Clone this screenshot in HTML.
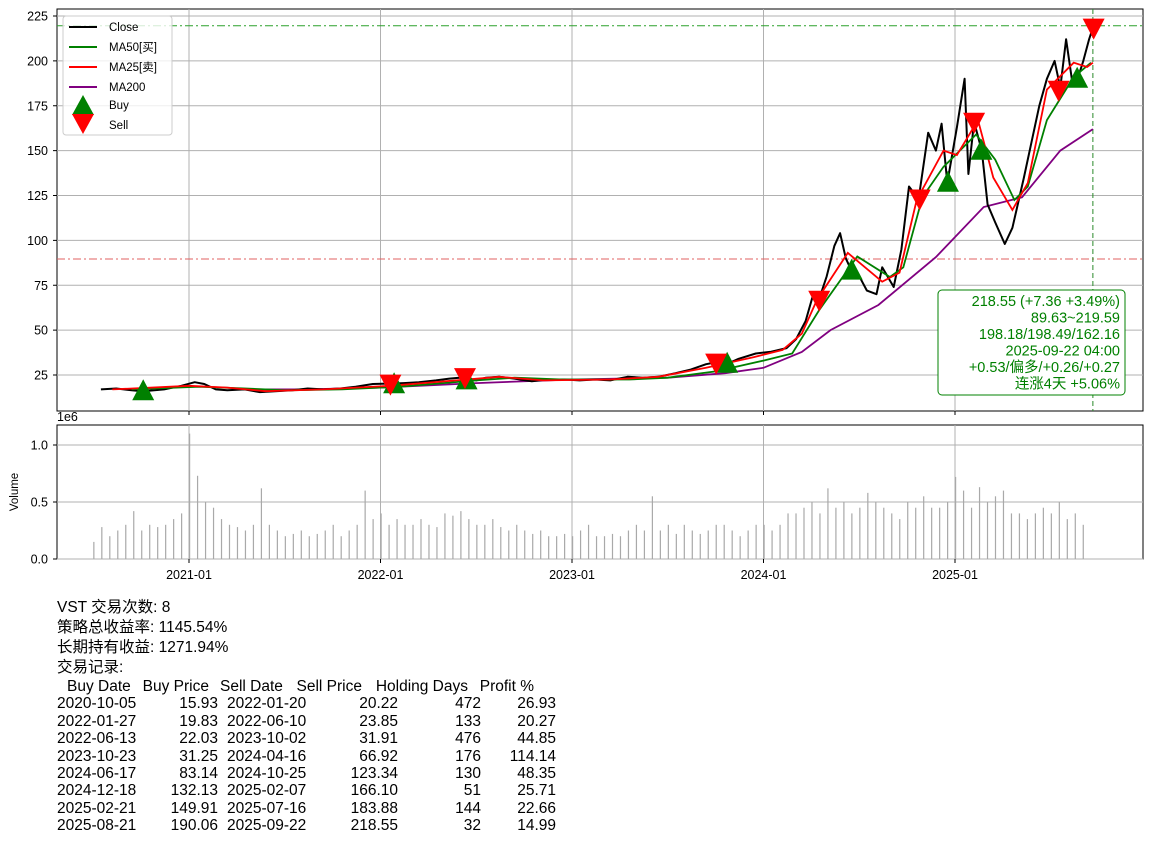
<!DOCTYPE html>
<html><head><meta charset="utf-8">
<style>
body{margin:0;background:#fff;width:1152px;height:843px;overflow:hidden;font-family:"Liberation Sans","Noto Sans CJK SC",sans-serif;}
#txt{position:absolute;left:57px;top:598px;font-size:15.5px;color:#000;line-height:20px}
#tbl{position:absolute;left:57px;top:678px;font-size:15.5px;line-height:17.4px}
.row{position:relative;height:17.4px;width:520px}
.row span{position:absolute;white-space:nowrap}
</style></head><body>
<svg id="chart" width="1152" height="600" style="position:absolute;left:0;top:0"></svg>
<div id="txt">
<div>VST 交易次数: 8</div>
<div>策略总收益率: 1145.54%</div>
<div>长期持有收益: 1271.94%</div>
<div>交易记录:</div>
</div>
<div id="tbl"></div>
<script>
const closeT=[2020.54,2020.62,2020.7,2020.76,2020.87,2020.96,2021.03,2021.08,2021.14,2021.2,2021.29,2021.37,2021.45,2021.54,2021.62,2021.7,2021.79,2021.87,2021.96,2022.05,2022.12,2022.2,2022.29,2022.36,2022.44,2022.5,2022.55,2022.62,2022.7,2022.79,2022.87,2022.96,2023.04,2023.12,2023.2,2023.29,2023.37,2023.45,2023.54,2023.62,2023.7,2023.75,2023.81,2023.87,2023.96,2024.04,2024.12,2024.17,2024.22,2024.26,2024.29,2024.33,2024.37,2024.4,2024.43,2024.46,2024.5,2024.54,2024.59,2024.62,2024.68,2024.72,2024.76,2024.81,2024.86,2024.9,2024.93,2024.96,2025.01,2025.05,2025.07,2025.1,2025.14,2025.17,2025.21,2025.26,2025.3,2025.36,2025.4,2025.44,2025.48,2025.52,2025.55,2025.58,2025.61,2025.64,2025.67,2025.7,2025.72];
const closeV=[17,17.5,16.5,15.9,17,19,21,20,17,16.5,17,15.5,16,16.5,17.5,17,17.5,18.5,20,20.2,20.5,21,22,23,23.8,22,23.5,24,23,21.5,22.5,22.5,22,22.5,22,24,23.5,24,26,28,31,32,31.2,34,37,38,40,45,55,70,67,80,97,104,90,83,80,72,70,85,74,95,130,123,160,150,165,132,163,190,137,166,150,120,110,98,107,135,155,175,190,200,185,212,190,190,200,212,218.5];
const ma25T=[2020.6,2021.0,2021.2,2021.4,2021.7,2022.05,2022.45,2022.62,2022.85,2023.2,2023.45,2023.7,2023.95,2024.1,2024.2,2024.28,2024.44,2024.62,2024.71,2024.8,2024.94,2025.01,2025.12,2025.2,2025.3,2025.38,2025.48,2025.62,2025.69,2025.72];
const ma25V=[17,19,18,16,17,19,22.5,24,22,22.5,24,29,35,39,48,67,93,77,82,122.5,150,147.5,167,135,117,132,184,199,196.6,199];
const ma50T=[2020.7,2021.05,2021.3,2021.5,2021.8,2022.1,2022.5,2022.7,2022.95,2023.3,2023.5,2023.75,2024.0,2024.15,2024.29,2024.49,2024.66,2024.73,2024.83,2024.94,2025.11,2025.21,2025.31,2025.38,2025.48,2025.62,2025.71];
const ma50V=[17,18.5,17.5,16.5,17,18.5,22,23.5,22.5,22.5,23.5,27,33,37,61,91,79.6,85,124,141,159,145,122.5,130,167,191,199];
const ma200T=[2021.36,2021.6,2022.0,2022.5,2023.0,2023.5,2023.8,2024.0,2024.2,2024.35,2024.6,2024.9,2025.15,2025.35,2025.55,2025.72];
const ma200V=[17,17,18,20.5,22.5,23.5,26,29,37.8,50,64,90.7,118.6,124,150,162];
const buyDates=["2020-10-05","2022-01-27","2022-06-13","2023-10-23","2024-06-17","2024-12-18","2025-02-21","2025-08-21"];
const buyPrices=[15.93,19.83,22.03,31.25,83.14,132.13,149.91,190.06];
const sellDates=["2022-01-20","2022-06-10","2023-10-02","2024-04-16","2024-10-25","2025-02-07","2025-07-16","2025-09-22"];
const sellPrices=[20.22,23.85,31.91,66.92,123.34,166.10,183.88,218.55];
const holdDays=[472,133,476,176,130,51,144,32];
const profits=["26.93","20.27","44.85","114.14","48.35","25.71","22.66","14.99"];
const volStart=2020.5;
const volV=[.15,.28,.2,.25,.3,.42,.25,.3,.28,.3,.35,.4,1.1,.73,.5,.45,.35,.3,.28,.25,.3,.62,.3,.25,.2,.22,.25,.2,.22,.25,.3,.2,.25,.3,.6,.35,.4,.3,.35,.3,.3,.35,.3,.28,.4,.38,.42,.35,.3,.3,.35,.28,.25,.3,.25,.22,.25,.2,.2,.22,.2,.25,.3,.2,.2,.22,.2,.25,.3,.25,.55,.25,.3,.22,.3,.25,.22,.25,.3,.3,.25,.2,.25,.3,.3,.25,.3,.4,.4,.45,.5,.4,.62,.45,.5,.4,.45,.58,.5,.45,.4,.35,.5,.45,.55,.45,.45,.5,.72,.6,.45,.63,.5,.55,.6,.4,.4,.35,.4,.45,.4,.5,.35,.4,.3];
const yTicks=[25,50,75,100,125,150,175,200,225];
const vTicks=[0,0.5,1.0];
const xTickLabels=["2021-01","2022-01","2023-01","2024-01","2025-01"];
const xTickT=[2021,2022,2023,2024,2025];

const NS="http://www.w3.org/2000/svg";
const svg=document.getElementById('chart');
function X(t){return 189+(t-2021)*191.5;}
function Y(v){return 375-(v-25)*1.795;}
function VY(v){return 559-v*114;}
function dt(s){const p=s.split('-').map(Number);return p[0]+((p[1]-1)+(p[2]-1)/30.5)/12;}
function mk(tag,at){const e=document.createElementNS(NS,tag);for(const k in at)e.setAttribute(k,at[k]);svg.appendChild(e);return e;}
function pts(T,V){return T.map((t,i)=>X(t).toFixed(1)+','+Y(V[i]).toFixed(1)).join(' ');}
let e;
// frames
e=mk('rect',{x:57,y:9,width:1086,height:402,fill:'#fff',stroke:'#000','stroke-width':1});


e=mk('rect',{x:57,y:425,width:1086,height:134,fill:'#fff',stroke:'#000','stroke-width':1});


// grids
yTicks.forEach(v=>{
 e=mk('line',{x1:57,x2:1143,y1:Y(v),y2:Y(v),stroke:'#b0b0b0','stroke-width':1});
 
 
 mk('line',{x1:53,x2:57,y1:Y(v),y2:Y(v),stroke:'#000'});
 e=mk('text',{x:48,y:Y(v)+4.5,'text-anchor':'end','font-size':12.5});e.textContent=v;
 
 
});
vTicks.forEach(v=>{
 e=mk('line',{x1:57,x2:1143,y1:VY(v),y2:VY(v),stroke:'#b0b0b0','stroke-width':1});
 
 
 mk('line',{x1:53,x2:57,y1:VY(v),y2:VY(v),stroke:'#000'});
 e=mk('text',{x:48,y:VY(v)+4.5,'text-anchor':'end','font-size':12.5});e.textContent=v.toFixed(1);
 
 
});
xTickT.forEach((t,i)=>{
 mk('line',{x1:X(t),x2:X(t),y1:9,y2:411,stroke:'#b0b0b0'});
 mk('line',{x1:X(t),x2:X(t),y1:425,y2:559,stroke:'#b0b0b0'});
 mk('line',{x1:X(t),x2:X(t),y1:559,y2:563,stroke:'#000'});
 mk('line',{x1:X(t),x2:X(t),y1:411,y2:415,stroke:'#000'});
 e=mk('text',{x:X(t),y:579,'text-anchor':'middle','font-size':12.5});e.textContent=xTickLabels[i];
 
 
});
e=mk('text',{x:57,y:421,'font-size':12.5});e.textContent='1e6';
e=mk('text',{x:18,y:492,'font-size':11.5,'text-anchor':'middle',transform:'rotate(-90 18 492)'});e.textContent='Volume';


// volume bars
volV.forEach((v,i)=>{
 const x=X(volStart+i/24);
 e=mk('rect',{x:x,y:VY(v),width:1.2,height:v*114,fill:'#a9a9a9'});
 
 
});
// ref lines
const hi=219.59,lo=89.63,lastT=closeT[closeT.length-1];
e=mk('line',{x1:57,x2:1143,y1:Y(hi),y2:Y(hi),stroke:'#2ca02c','stroke-dasharray':'8,3,2,3','stroke-width':1});


e=mk('line',{x1:57,x2:1143,y1:Y(lo),y2:Y(lo),stroke:'#e06060','stroke-dasharray':'8,3,2,3','stroke-width':1});


e=mk('line',{x1:X(lastT),x2:X(lastT),y1:9,y2:411,stroke:'#2a8a2a','stroke-dasharray':'5,3','stroke-width':1});


// lines
e=mk('polyline',{points:pts(ma200T,ma200V),fill:'none',stroke:'purple','stroke-width':1.8});


e=mk('polyline',{points:pts(closeT,closeV),fill:'none',stroke:'#000','stroke-width':2,'stroke-linejoin':'round'});


e=mk('polyline',{points:pts(ma50T,ma50V),fill:'none',stroke:'green','stroke-width':1.8});


e=mk('polyline',{points:pts(ma25T,ma25V),fill:'none',stroke:'red','stroke-width':1.8});


// markers
buyDates.forEach((d,i)=>{
 const x=X(dt(d)),y=Y(buyPrices[i]);
 e=mk('polygon',{points:`${x},${y-12} ${x-11},${y+9} ${x+11},${y+9}`,fill:'green'});
 
 
});
sellDates.forEach((d,i)=>{
 const x=X(dt(d)),y=Y(sellPrices[i]);
 e=mk('polygon',{points:`${x},${y+12} ${x-11},${y-9} ${x+11},${y-9}`,fill:'red'});
 
 
});
// info box
e=mk('rect',{x:938,y:290,width:187,height:105,rx:4,fill:'#fff',stroke:'green','stroke-width':1});


["218.55 (+7.36 +3.49%)","89.63~219.59","198.18/198.49/162.16","2025-09-22 04:00","+0.53/偏多/+0.26/+0.27","连涨4天 +5.06%"].forEach((s,i)=>{
 e=mk('text',{x:1120,y:306+i*16.5,'text-anchor':'end','font-size':14.5,fill:'green'});e.textContent=s;
 
 
});
// legend
e=mk('rect',{x:63,y:16,width:109,height:119,rx:3,fill:'#fff','fill-opacity':0.8,stroke:'#ccc'});


[["Close","#000"],["MA50[买]","green"],["MA25[卖]","red"],["MA200","purple"]].forEach((p,i)=>{
 const y=27+i*20;
 mk('line',{x1:69,x2:97,y1:y,y2:y,stroke:p[1],'stroke-width':2});
 e=mk('text',{x:109,y:y+4,'font-size':11.5});e.textContent=p[0];
 
 
});
mk('polygon',{points:'83,95 72,115 94,115',fill:'green'});
e=mk('text',{x:109,y:109,'font-size':11.5});e.textContent='Buy';
mk('polygon',{points:'83,134 72,114 94,114',fill:'red'});
e=mk('text',{x:109,y:129,'font-size':11.5});e.textContent='Sell';
// table
const tbl=document.getElementById('tbl');
function row(cells,name){
 const r=document.createElement('div');r.className='row';
 
 
 cells.forEach(c=>{const s=document.createElement('span');s.textContent=c[0];
  if(c[2]==='l')s.style.left=c[1]+'px';else s.style.right=(520-c[1])+'px';r.appendChild(s);});
 tbl.appendChild(r);
}
row([["Buy Date",10,'l'],["Buy Price",152,'r'],["Sell Date",163,'l'],["Sell Price",305,'r'],["Holding Days",411,'r'],["Profit %",477,'r']],'table-header');
buyDates.forEach((d,i)=>{
 row([[d,0,'l'],[buyPrices[i].toFixed(2),161,'r'],[sellDates[i],170,'l'],[sellPrices[i].toFixed(2),341,'r'],[String(holdDays[i]),424,'r'],[profits[i],499,'r']],'trade-row');
});
</script>
</body></html>
